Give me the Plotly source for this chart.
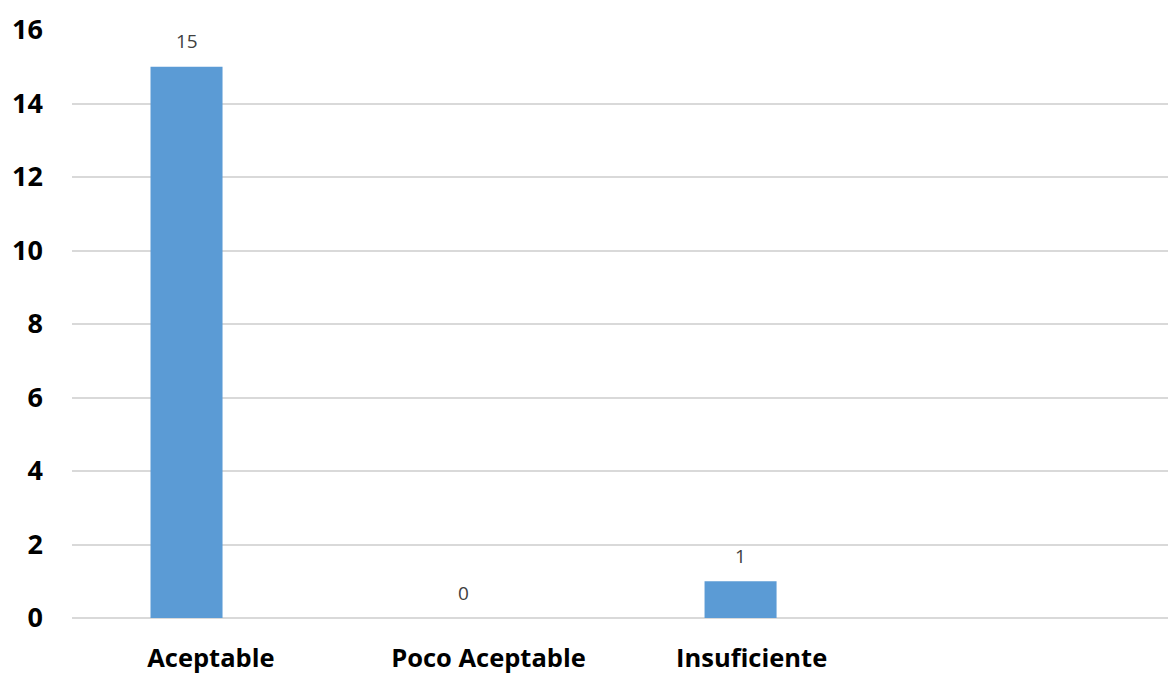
import plotly.graph_objects as go

categories = ["Aceptable", "Poco Aceptable", "Insuficiente"]
values = [15, 0, 1]
y_ticks = [0, 2, 4, 6, 8, 10, 12, 14, 16]

# style: small horizontal shift of category labels relative to bars (category units)
label_shift = [0.088, 0.09, 0.04]

xs = list(range(len(categories)))

fig = go.Figure()
fig.add_trace(go.Bar(
    x=xs, y=values, width=0.26,
    marker=dict(color="#5B9BD5", line=dict(width=0)),
    hoverinfo="skip",
))

for x, v in zip(xs, values):
    fig.add_annotation(x=x, y=v, text=str(v), showarrow=False,
                       yanchor="middle", yshift=25.5,
                       font=dict(family="Open Sans", size=19, color="#404040"))

font_family = "Open Sans"
fig.update_layout(
    width=1168, height=675,
    margin=dict(l=72, r=0, t=30, b=57),
    plot_bgcolor="white", paper_bgcolor="white",
    showlegend=False,
    xaxis=dict(
        range=[-0.4134, 3.543], automargin=False,
        tickvals=[x + s for x, s in zip(xs, label_shift)],
        ticktext=["<b>%s</b>" % c for c in categories],
        showgrid=False, zeroline=False, showline=False,
        ticks="", ticklabelstandoff=22,
        tickfont=dict(family=font_family, size=25.5, color="black"),
    ),
    yaxis=dict(
        range=[0, 16], tickvals=y_ticks, automargin=False,
        ticktext=["<b>%d</b>" % t for t in y_ticks],
        showgrid=True, gridcolor="#D9D9D9", gridwidth=1.5,
        zeroline=True, zerolinecolor="#D9D9D9", zerolinewidth=1.5,
        showline=False, ticks="", ticklabelstandoff=28,
        tickfont=dict(family=font_family, size=27, color="black"),
    ),
)

fig.write_html("out.html",
               config={"displayModeBar": False},
               post_script="document.body.style.margin='0';document.body.style.overflow='hidden';")
